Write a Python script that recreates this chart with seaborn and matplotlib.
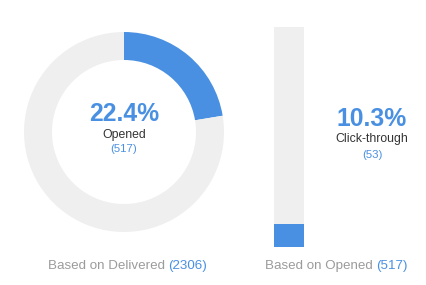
import matplotlib
matplotlib.use("Agg")
import matplotlib.pyplot as plt
import seaborn as sns
import pandas as pd

# ---- data ----
opened_pct = 22.4
opened_count = 517
delivered_count = 2306
click_pct = 10.3
click_count = 53

BLUE = "#4a90e2"
TRACK = "#efefef"
GRAY_TXT = "#9b9b9b"
DARK_TXT = "#333333"

sns.set_theme(style="white")
plt.rcParams["font.family"] = ["Liberation Sans", "DejaVu Sans"]

W, H = 427, 285
fig = plt.figure(figsize=(W / 100, H / 100), dpi=100)
fig.patch.set_facecolor("white")

def px_axes(left, top, width, height):
    return fig.add_axes([left / W, 1 - (top + height) / H, width / W, height / H])

# ---- donut ----
ax1 = px_axes(24, 32, 200, 200)
ax1.pie([opened_pct, 100 - opened_pct], colors=[BLUE, TRACK], startangle=90,
        counterclock=False, radius=1, wedgeprops=dict(width=0.28, edgecolor="none"))
ax1.set_xlim(-1, 1); ax1.set_ylim(-1, 1)
ax1.set_aspect("equal")
ax1.axis("off")

# ---- vertical progress bar ----
ax2 = px_axes(274, 27, 30, 220)
bg = pd.DataFrame({"k": ["c"], "v": [100.0]})
fg = pd.DataFrame({"k": ["c"], "v": [click_pct]})
sns.barplot(data=bg, x="k", y="v", color=TRACK, saturation=1, width=1, ax=ax2)
sns.barplot(data=fg, x="k", y="v", color=BLUE, saturation=1, width=1, ax=ax2)
for p in ax2.patches:
    p.set_edgecolor("none")
ax2.set_xlim(-0.5, 0.5); ax2.set_ylim(0, 100)
ax2.axis("off")

def ftext(x, y, s, **kw):
    return fig.text(x / W, 1 - y / H, s, **kw)

# donut labels
ftext(124, 114, f"{opened_pct}%", ha="center", va="center", color=BLUE,
      fontsize=17.8, fontweight="bold")
ftext(124, 135, "Opened", ha="center", va="center", color=DARK_TXT, fontsize=8.8)
ftext(124, 149, f"({opened_count})", ha="center", va="center", color=BLUE, fontsize=8.2)

# bar labels
ftext(372, 119, f"{click_pct}%", ha="center", va="center", color=BLUE,
      fontsize=17.8, fontweight="bold")
ftext(372, 139, "Click-through", ha="center", va="center", color=DARK_TXT, fontsize=8.8)
ftext(372, 155, f"({click_count})", ha="center", va="center", color=BLUE, fontsize=8.2)

# footers
t1 = ftext(48, 266, "Based on Delivered", ha="left", va="center", color=GRAY_TXT, fontsize=9.6)
plt.annotate(f"({delivered_count})", xy=(1, 0.5), xycoords=t1, xytext=(2.6, 0),
             textcoords="offset points", ha="left", va="center", color=BLUE, fontsize=9.6,
             annotation_clip=False)
t2 = ftext(265, 266, "Based on Opened", ha="left", va="center", color=GRAY_TXT, fontsize=9.6)
plt.annotate(f"({opened_count})", xy=(1, 0.5), xycoords=t2, xytext=(2.6, 0),
             textcoords="offset points", ha="left", va="center", color=BLUE, fontsize=9.6,
             annotation_clip=False)

fig.savefig("out.png", dpi=100, facecolor="white")
